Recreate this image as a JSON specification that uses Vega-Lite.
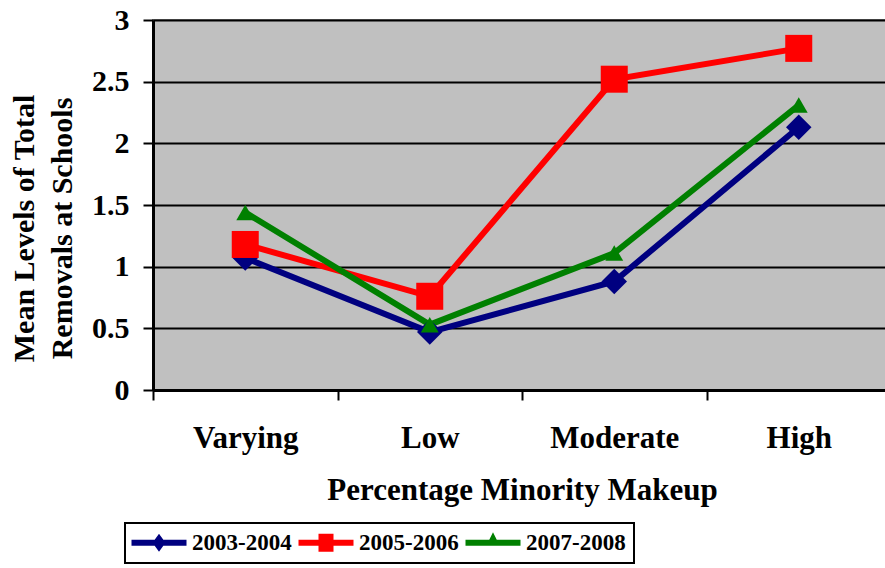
{
  "$schema": "https://vega.github.io/schema/vega-lite/v6.json",
  "autosize": "none",
  "width": 738,
  "height": 370,
  "padding": {"left": 153, "top": 20, "right": 0, "bottom": 178},
  "background": "white",
  "config": {
    "font": "Times New Roman, Liberation Serif, serif",
    "view": {"fill": "#C0C0C0", "stroke": "#808080", "strokeWidth": 2},
    "legend": {"strokeColor": "black", "strokeWidth": 2, "fillColor": "white", "padding": 8},
    "axis": {
      "labelFont": "Times New Roman, Liberation Serif, serif",
      "labelFontWeight": "bold",
      "labelColor": "black",
      "titleFont": "Times New Roman, Liberation Serif, serif",
      "titleFontWeight": "bold",
      "titleColor": "black",
      "domainColor": "black",
      "domainWidth": 3,
      "tickColor": "black",
      "tickWidth": 2,
      "tickSize": 10,
      "gridColor": "black",
      "gridWidth": 2,
      "gridOpacity": 1
    }
  },
  "data": {
    "values": [
      {"cat": "Varying", "year": "2003-2004", "value": 1.07},
      {"cat": "Low", "year": "2003-2004", "value": 0.47},
      {"cat": "Moderate", "year": "2003-2004", "value": 0.88},
      {"cat": "High", "year": "2003-2004", "value": 2.13},
      {"cat": "Varying", "year": "2005-2006", "value": 1.18},
      {"cat": "Low", "year": "2005-2006", "value": 0.76},
      {"cat": "Moderate", "year": "2005-2006", "value": 2.52},
      {"cat": "High", "year": "2005-2006", "value": 2.77},
      {"cat": "Varying", "year": "2007-2008", "value": 1.44},
      {"cat": "Low", "year": "2007-2008", "value": 0.53},
      {"cat": "Moderate", "year": "2007-2008", "value": 1.11},
      {"cat": "High", "year": "2007-2008", "value": 2.31}
    ]
  },
  "encoding": {
    "x": {
      "field": "cat",
      "type": "nominal",
      "sort": ["Varying", "Low", "Moderate", "High"],
      "scale": {"type": "band", "paddingInner": 0, "paddingOuter": 0},
      "axis": {
        "title": "Percentage Minority Makeup",
        "labelAngle": 0,
        "labelFontSize": 31,
        "titleFontSize": 31,
        "labelPadding": 23,
        "titlePadding": 22,
        "tickBand": "extent",
        "grid": false
      }
    },
    "y": {
      "field": "value",
      "type": "quantitative",
      "scale": {"domain": [0, 3], "nice": false},
      "axis": {
        "title": ["Mean Levels of Total", "Removals at Schools"],
        "values": [0, 0.5, 1, 1.5, 2, 2.5, 3],
        "format": "~g",
        "labelFontSize": 30,
        "labelPadding": 14,
        "titleFontSize": 30,
        "titleLineHeight": 38,
        "titlePadding": 14,
        "titleY": 208,
        "grid": true
      }
    },
    "color": {
      "field": "year",
      "type": "nominal",
      "scale": {"domain": ["2003-2004", "2005-2006", "2007-2008"], "range": ["#000080", "#FF0000", "#008000"]},
      "legend": {
        "title": null,
        "orient": "none",
        "legendX": -28,
        "legendY": 503,
        "direction": "horizontal",
        "columns": 3,
        "columnPadding": 6,
        "symbolSize": 400,
        "symbolStrokeWidth": 0,
        "labelFontSize": 23,
        "labelFont": "Times New Roman, Liberation Serif, serif",
        "labelFontWeight": "bold",
        "labelColor": "black",
        "labelOffset": 36,
        "encode": {
          "symbols": {
            "update": {
              "shape": {"signal": "datum.value == '2003-2004' ? 'M-1.3,-0.3H4.2V0.3H-1.3Z M1.45,-0.9L2.1,0L1.45,0.9L0.8,0Z' : datum.value == '2005-2006' ? 'M-1.3,-0.3H4.2V0.3H-1.3Z M0.7,-0.9H2.2V0.9H0.7Z' : 'M-1.3,-0.3H4.2V0.3H-1.3Z M1.45,-1.05L2.05,0.15L0.85,0.15Z'"},
              "strokeWidth": {"value": 0}
            }
          }
        }
      }
    }
  },
  "layer": [
    {"mark": {"type": "line", "strokeWidth": 6}},
    {
      "transform": [{"filter": "datum.year == '2003-2004'"}],
      "mark": {"type": "point", "filled": true, "opacity": 1, "shape": "diamond", "size": 650}
    },
    {
      "transform": [{"filter": "datum.year == '2005-2006'"}],
      "mark": {"type": "point", "filled": true, "opacity": 1, "shape": "square", "size": 729}
    },
    {
      "transform": [{"filter": "datum.year == '2007-2008'"}],
      "mark": {"type": "point", "filled": true, "opacity": 1, "shape": "triangle-up", "size": 320}
    }
  ]
}
